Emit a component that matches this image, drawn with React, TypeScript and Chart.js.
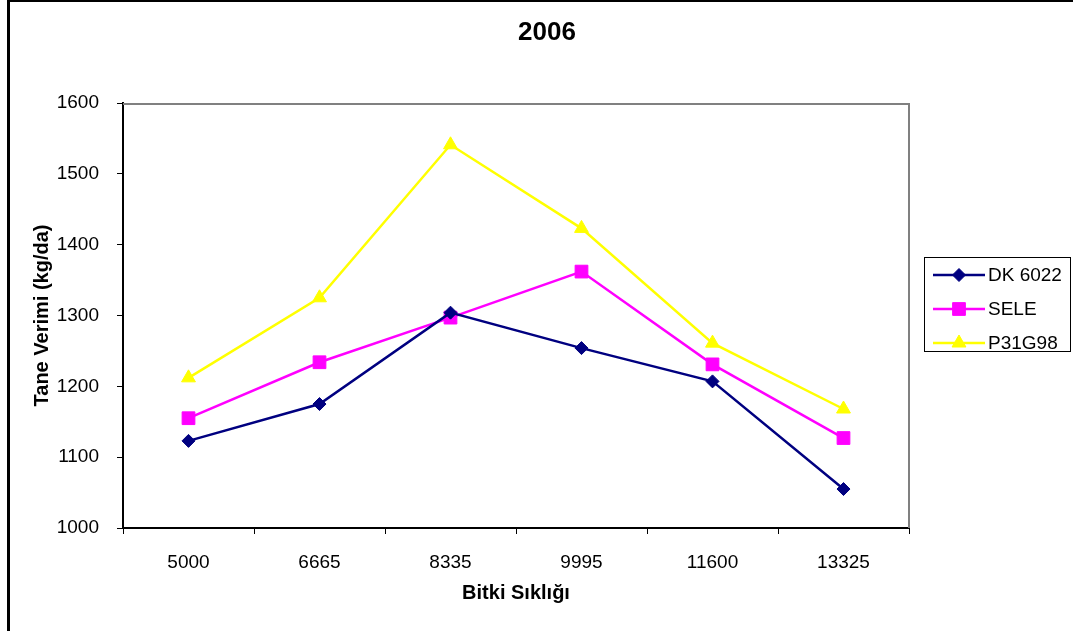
import React, { useEffect, useRef } from "react";
import { Chart, registerables } from "chart.js";
import { drawPoint } from "chart.js/helpers";

Chart.register(...registerables);

const chartTitle = "2006";
const xAxisTitle = "Bitki Sıklığı";
const yAxisTitle = "Tane Verimi (kg/da)";

const categories = ["5000", "6665", "8335", "9995", "11600", "13325"];

const dk6022 = [1123, 1175, 1304, 1254, 1207, 1055];
const sele = [1155, 1234, 1297, 1362, 1231, 1127];
const p31g98 = [1212, 1325, 1541, 1423, 1261, 1168];

const yMin = 1000;
const yMax = 1600;
const yStep = 100;

const FONT = "'Liberation Sans', Arial, sans-serif";

// Frame, plot border, title and the boxed legend (line sample + marker per series)
const decorations = {
  id: "decorations",
  beforeDraw(chart: any) {
    const { ctx, width, height } = chart;
    ctx.save();
    ctx.fillStyle = "#ffffff";
    ctx.fillRect(0, 0, width, height);
    ctx.fillStyle = "#000000";
    ctx.fillRect(7, 0, 3, height);
    ctx.fillRect(7, 0, width - 7, 2);
    ctx.restore();
  },
  afterDatasetsDraw(chart: any) {
    const { ctx, chartArea } = chart;
    ctx.save();
    ctx.strokeStyle = "#808080";
    ctx.lineWidth = 2;
    ctx.beginPath();
    ctx.moveTo(chartArea.left, chartArea.top + 1);
    ctx.lineTo(chartArea.right, chartArea.top + 1);
    ctx.lineTo(chartArea.right, chartArea.bottom);
    ctx.stroke();
    ctx.restore();
  },
  afterDraw(chart: any) {
    const { ctx } = chart;
    ctx.save();
    // title
    ctx.fillStyle = "#000000";
    ctx.font = `bold 26px ${FONT}`;
    ctx.textAlign = "center";
    ctx.textBaseline = "middle";
    ctx.fillText(chartTitle, 547, 33);

    // legend
    const boxX = 924.5;
    const boxY = 257.5;
    const boxW = 146;
    const boxH = 94;
    ctx.strokeStyle = "#000000";
    ctx.lineWidth = 1;
    ctx.strokeRect(boxX, boxY, boxW, boxH);
    ctx.font = `19px ${FONT}`;
    ctx.textAlign = "left";
    chart.data.datasets.forEach((ds: any, i: number) => {
      const y = 275 + i * 34;
      ctx.strokeStyle = ds.borderColor;
      ctx.lineWidth = ds.borderWidth;
      ctx.beginPath();
      ctx.moveTo(933, y);
      ctx.lineTo(985, y);
      ctx.stroke();
      ctx.fillStyle = ds.pointBackgroundColor;
      ctx.strokeStyle = ds.pointBorderColor;
      ctx.lineWidth = 1;
      drawPoint(ctx, { pointStyle: ds.pointStyle, radius: ds.pointRadius, borderWidth: 1, rotation: 0 }, 959, y);
      ctx.fillStyle = "#000000";
      ctx.fillText(ds.label, 988, y + 1);
    });
    ctx.restore();
  },
};

export default function App() {
  const canvasRef = useRef<HTMLCanvasElement | null>(null);

  useEffect(() => {
    const canvas = canvasRef.current;
    if (!canvas) return;
    const chart = new Chart(canvas, {
      type: "line",
      data: {
        labels: categories,
        datasets: [
          {
            label: "DK 6022",
            data: dk6022,
            borderColor: "#000080",
            backgroundColor: "#000080",
            pointBackgroundColor: "#000080",
            pointBorderColor: "#000080",
            borderWidth: 2.5,
            pointStyle: "rectRot",
            pointRadius: 6.5,
            pointBorderWidth: 1,
            tension: 0,
          },
          {
            label: "SELE",
            data: sele,
            borderColor: "#ff00ff",
            backgroundColor: "#ff00ff",
            pointBackgroundColor: "#ff00ff",
            pointBorderColor: "#ff00ff",
            borderWidth: 2.5,
            pointStyle: "rect",
            pointRadius: 9,
            pointBorderWidth: 1,
            tension: 0,
          },
          {
            label: "P31G98",
            data: p31g98,
            borderColor: "#ffff00",
            backgroundColor: "#ffff00",
            pointBackgroundColor: "#ffff00",
            pointBorderColor: "#ffff00",
            borderWidth: 2.5,
            pointStyle: "triangle",
            pointRadius: 8,
            pointBorderWidth: 1,
            tension: 0,
          },
        ],
      },
      options: {
        responsive: false,
        animation: false,
        devicePixelRatio: 1,
        layout: { padding: { top: 103, right: 164, bottom: 0, left: 0 } },
        plugins: {
          legend: { display: false },
          title: { display: false },
          tooltip: { enabled: false },
        },
        scales: {
          x: {
            type: "category",
            offset: true,
            grid: {
              offset: true,
              drawOnChartArea: false,
              drawTicks: true,
              tickLength: 6,
              tickColor: "#000000",
              lineWidth: 1,
            },
            border: { display: true, color: "#000000", width: 2 },
            ticks: {
              color: "#000000",
              font: { family: FONT, size: 19 },
              padding: 17,
              maxRotation: 0,
              autoSkip: false,
            },
            title: {
              display: true,
              text: xAxisTitle,
              color: "#000000",
              font: { family: FONT, size: 20, weight: "bold" },
              padding: { top: 0, bottom: 26 },
            },
            afterFit(scale: any) {
              scale.height = 103;
            },
          },
          y: {
            min: yMin,
            max: yMax,
            grid: {
              drawOnChartArea: false,
              drawTicks: true,
              tickLength: 6,
              tickColor: "#000000",
              lineWidth: 1,
            },
            border: { display: true, color: "#000000", width: 2 },
            ticks: {
              stepSize: yStep,
              color: "#000000",
              font: { family: FONT, size: 19 },
              padding: 18,
              callback: (value: any) => String(value),
            },
            title: {
              display: true,
              text: yAxisTitle,
              color: "#000000",
              font: { family: FONT, size: 20, weight: "bold" },
              padding: { top: 30, bottom: 0 },
            },
            afterFit(scale: any) {
              scale.width = 123;
            },
          },
        },
      },
      plugins: [decorations],
    });
    return () => chart.destroy();
  }, []);

  return (
    <div style={{ position: "fixed", left: 0, top: 0, width: 1073, height: 631, background: "#ffffff" }}>
      <canvas ref={canvasRef} width={1073} height={631} style={{ display: "block" }} />
    </div>
  );
}
